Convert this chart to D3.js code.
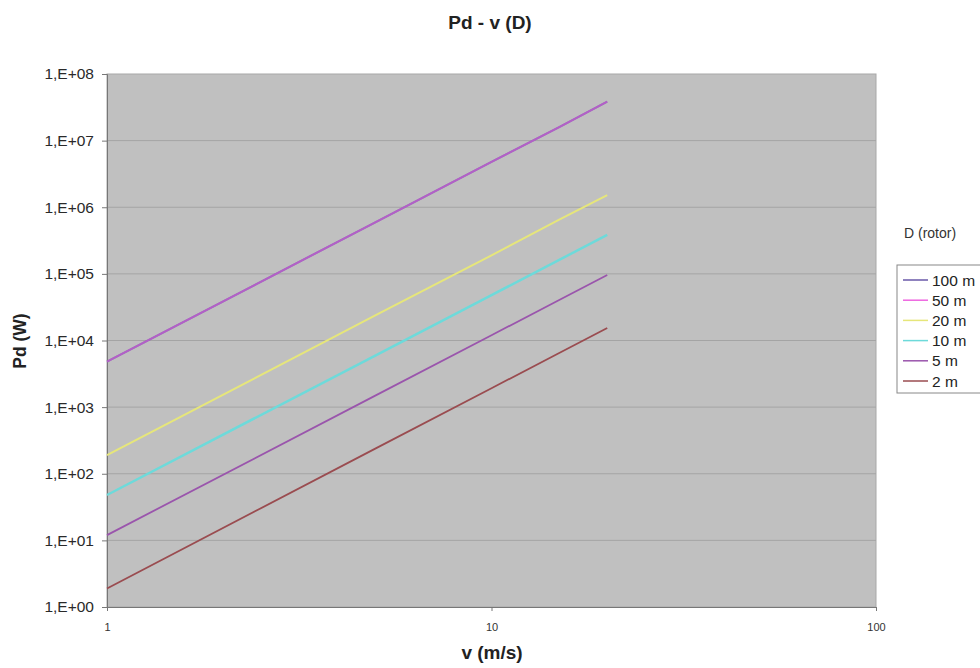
<!DOCTYPE html>
<html><head><meta charset="utf-8">
<script src="https://cdn.jsdelivr.net/npm/d3@7"></script>
<style>body{margin:0;background:#fff;}svg{display:block;font-family:"Liberation Sans",Arial,sans-serif;}</style>
</head><body>
<svg id="chart" width="980" height="668"></svg>
<script>
const speeds = [1, 5, 10, 15, 20];
const seriesNames = ["100 m", "50 m", "20 m", "10 m", "5 m", "2 m"];
const p100 = [4800, 600000, 4800000, 16000000, 38500000];
const p50  = [4800, 600000, 4800000, 16000000, 38500000];
const p20  = [190, 24000, 190000, 650000, 1520000];
const p10  = [48, 6000, 48000, 162000, 385000];
const p5   = [12, 1500, 12000, 40500, 96000];
const p2   = [1.9, 240, 1920, 6500, 15400];
const seriesValues = [p100, p50, p20, p10, p5, p2];
const colors = ["#6a58a8", "#ee66e0", "#e6e67a", "#6ddada", "#9a55ac", "#9a4c50"];
const widths = [2, 2, 2, 2.5, 1.8, 1.8];
const opac = [1, 0.55, 1, 1, 1, 1];
const yTicks = [1, 10, 100, 1000, 1e4, 1e5, 1e6, 1e7, 1e8];
const yTickLabels = ["1,E+00","1,E+01","1,E+02","1,E+03","1,E+04","1,E+05","1,E+06","1,E+07","1,E+08"];
const xTicks = [1, 10, 100];
const xTickLabels = ["1", "10", "100"];

const svg = d3.select("#chart");
const L = 107, R = 876, T = 74, B = 607;
const x = d3.scaleLog().domain([1, 100]).range([L, R]);
const y = d3.scaleLog().domain([1, 1e8]).range([B, T]);
const FF = "Liberation Sans, Arial, sans-serif";

svg.append("rect").attr("x", L).attr("y", T).attr("width", R - L).attr("height", B - T)
  .attr("fill", "#c0c0c0").attr("stroke", "#a8a8a8").attr("stroke-width", 1);

// gridlines
svg.append("g").selectAll("line").data(yTicks.slice(1, -1)).join("line")
  .attr("x1", L).attr("x2", R).attr("y1", d => y(d)).attr("y2", d => y(d))
  .attr("stroke", "#a4a4a4").attr("stroke-width", 1);

// axes
const yAxis = d3.axisLeft(y).tickValues(yTicks).tickFormat((d, i) => yTickLabels[i]).tickSize(5).tickPadding(8);
const gy = svg.append("g").attr("transform", `translate(${L},0)`).call(yAxis);
gy.select(".domain").attr("stroke", "#777");
gy.selectAll(".tick line").attr("stroke", "#777");
gy.selectAll("text").attr("font-size", 15.5).attr("fill", "#2a2a2a").attr("font-family", FF);

const xAxis = d3.axisBottom(x).tickValues(xTicks).tickFormat((d, i) => xTickLabels[i]).tickSize(4).tickPadding(12);
const gx = svg.append("g").attr("transform", `translate(0,${B})`).call(xAxis);
gx.select(".domain").attr("stroke", "#777");
gx.selectAll(".tick line").attr("stroke", "#777");
gx.selectAll("text").attr("font-size", 11).attr("fill", "#333").attr("font-family", FF);

// lines
const line = d3.line().x(d => x(d[0])).y(d => y(d[1]));
seriesValues.forEach((vals, i) => {
  svg.append("path").datum(speeds.map((v, j) => [v, vals[j]]))
    .attr("d", line).attr("fill", "none").attr("stroke", colors[i])
    .attr("stroke-width", widths[i]).attr("stroke-opacity", opac[i]);
});

// titles
svg.append("text").attr("x", 490).attr("y", 29).attr("text-anchor", "middle")
  .attr("font-size", 19).attr("font-weight", "bold").attr("fill", "#222").text("Pd - v (D)");
svg.append("text").attr("x", 492).attr("y", 659).attr("text-anchor", "middle")
  .attr("font-size", 19).attr("font-weight", "bold").attr("fill", "#222").text("v (m/s)");
svg.append("text").attr("transform", "translate(26,341) rotate(-90)").attr("text-anchor", "middle")
  .attr("font-size", 17.5).attr("font-weight", "bold").attr("fill", "#222").text("Pd (W)");

// legend
svg.append("text").attr("x", 904).attr("y", 238).attr("font-size", 14).attr("fill", "#333").text("D (rotor)");
const lg = svg.append("g");
lg.append("rect").attr("x", 897).attr("y", 265).attr("width", 90).attr("height", 128)
  .attr("fill", "#fff").attr("stroke", "#888");
seriesNames.forEach((n, i) => {
  const yy = 280 + i * 20.2;
  lg.append("line").attr("x1", 903).attr("x2", 928).attr("y1", yy).attr("y2", yy)
    .attr("stroke", colors[i]).attr("stroke-width", 1.5);
  lg.append("text").attr("x", 932).attr("y", yy + 5.5).attr("font-size", 15.5).attr("fill", "#222").text(n);
});
</script>
</body></html>
